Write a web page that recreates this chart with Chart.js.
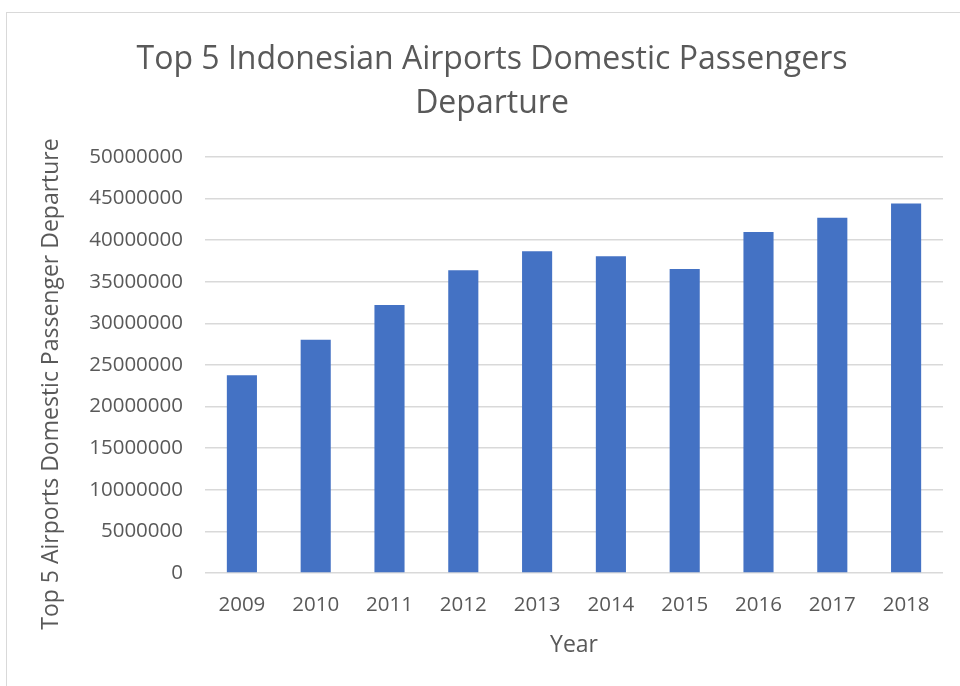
<!DOCTYPE html>
<html>
<head>
<meta charset="utf-8">
<script src="https://cdn.jsdelivr.net/npm/chart.js@4.4.0/dist/chart.umd.min.js"></script>
<style>
  body { margin: 0; background: #fff; }
  #wrap { position: relative; width: 960px; height: 686px; overflow: hidden; }
  #frame { position: absolute; left: 6px; top: 12px; width: 980px; height: 700px; border: 1px solid #d9d9d9; pointer-events: none; }
</style>
</head>
<body>
<div id="wrap">
  <canvas id="myChart" width="960" height="686"></canvas>
  <div id="frame"></div>
</div>
<script>
const years = ['2009', '2010', '2011', '2012', '2013', '2014', '2015', '2016', '2017', '2018'];
const passengers = [23760000, 28040000, 32200000, 36400000, 38660000, 38060000, 36540000, 41000000, 42700000, 44400000];
const chartTitle = ['Top 5 Indonesian Airports Domestic Passengers', 'Departure'];
const xTitle = 'Year';
const yTitle = 'Top 5 Airports Domestic Passenger Departure';

const textColor = '#595959';
const fontFamily = "'Open Sans', sans-serif";

// y axis title drawn by hand so it is centred like excel does it
const yTitlePlugin = {
  id: 'yTitle',
  afterDraw(chart) {
    const ctx = chart.ctx;
    ctx.save();
    ctx.translate(51, 384);
    ctx.rotate(-Math.PI / 2);
    ctx.fillStyle = textColor;
    ctx.font = "23px " + fontFamily;
    ctx.textAlign = 'center';
    ctx.textBaseline = 'middle';
    ctx.fillText(yTitle, 0, 0);
    ctx.restore();
  }
};

const data = {
  labels: years,
  datasets: [{
    label: 'Passengers',
    data: passengers,
    backgroundColor: '#4472c4',
    categoryPercentage: 1,
    barPercentage: 0.408
  }]
};

const config = {
  type: 'bar',
  data,
  options: {
    responsive: false,
    animation: false,
    layout: { padding: { left: 41, right: 17, top: 0, bottom: 0 } },
    plugins: {
      legend: { display: false },
      tooltip: { enabled: false },
      title: {
        display: true,
        text: chartTitle,
        color: textColor,
        font: { family: fontFamily, size: 32, weight: 'normal', lineHeight: 1.375 },
        padding: { top: 38, bottom: 31 }
      }
    },
    scales: {
      x: {
        grid: { display: false, drawTicks: false },
        border: { display: false },
        ticks: { color: textColor, font: { family: fontFamily, size: 20.5 }, padding: 20 },
        title: {
          display: true,
          text: xTitle,
          color: textColor,
          font: { family: fontFamily, size: 23 },
          padding: { top: 0, bottom: 27 }
        },
        afterFit(scale) { scale.height = 113; }
      },
      y: {
        min: 0,
        max: 50000000,
        grid: { color: '#d9d9d9', lineWidth: 1.5, drawTicks: false },
        border: { display: false },
        ticks: {
          stepSize: 5000000,
          color: textColor,
          font: { family: fontFamily, size: 20.5 },
          padding: 22,
          callback: v => String(v)
        },
        afterFit(scale) { scale.width = 164; }
      }
    }
  },
  plugins: [yTitlePlugin]
};

const myChart = new Chart(document.getElementById('myChart'), config);
</script>
</body>
</html>
